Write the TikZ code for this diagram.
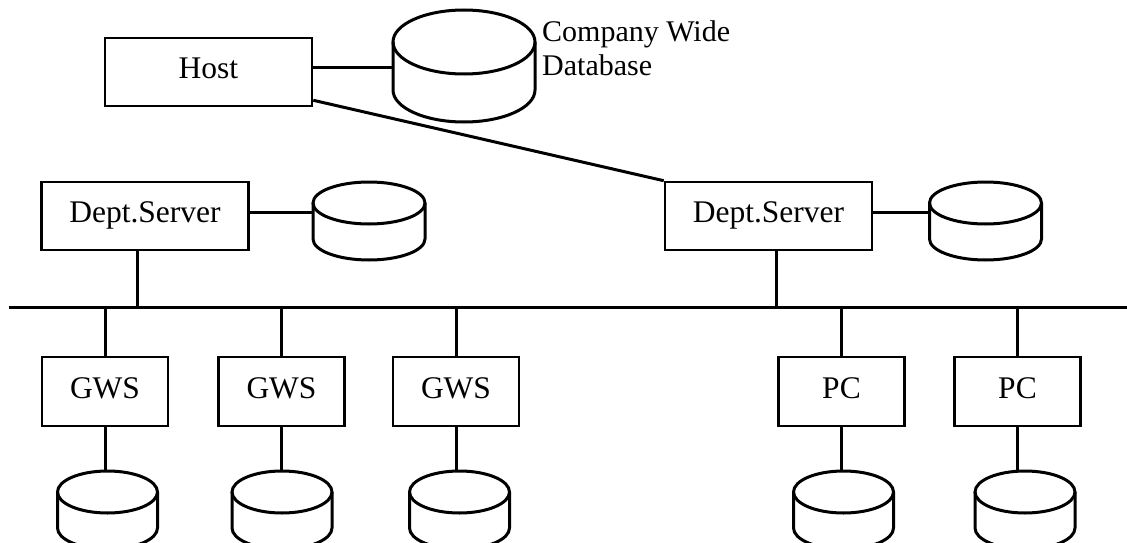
\documentclass[tikz,border=0pt]{standalone}
\usepackage{fontspec}
\setmainfont{Liberation Serif}
\usetikzlibrary{positioning,calc}

\begin{document}
\begin{tikzpicture}[x=1pt,y=-1pt]
	\tikzset{
	  basic/.style  = {draw, line width=2.6pt, rectangle, inner sep=0pt,
	                   font=\fontsize{31.5}{35}\selectfont,
	                   text height=21pt, text depth=7.5pt},
	  server/.style = {basic, minimum width=207pt, minimum height=68pt},
	  client/.style = {basic, minimum width=126pt, minimum height=69pt},
	  wire/.style   = {line width=3pt},
	  bus/.style    = {line width=3.8pt},
	  pics/disk/.style args = {#1/#2/#3}{code={
	    \draw[wire] (0,0) ellipse[x radius=#1, y radius=#2];
	    \draw[wire] (-#1,0) -- (-#1,#3)
	      arc[start angle=180, end angle=0, x radius=#1, y radius=#2] -- (#1,0);
	    \coordinate (-top) at (0,-#2);
	    \coordinate (-left) at (-#1,0);
	  }}
	}
	\useasboundingbox (0,0) rectangle (1127,543);

	% host and the company database
	\node[server] (host) at (208.5,72) {Host};
	\pic (dbhost) at (464,42) {disk={71/32/48}};
	\node[anchor=north west, inner sep=0pt, align=left,
	      font=\fontsize{30}{34}\selectfont] (dblabel) at (542,20)
	  {Company Wide\\Database};

	% department servers
	\node[server] (srvL) at (145,216) {Dept.Server};
	\node[server] (srvR) at (768.5,216) {Dept.Server};
	\pic (dbsrvL) at (369,203) {disk={56/21/36}};
	\pic (dbsrvR) at (985.5,203) {disk={56/21/36}};

	% the network
	\coordinate (busL) at (9,307.5);
	\coordinate (busR) at (1127,307.5);
	\draw[bus] (busL) -- (busR);

	% workstations and PCs
	\node[client] (gws1) at (105,391.5) {GWS};
	\node[client] (gws2) at (281.5,391.5) {GWS};
	\node[client] (gws3) at (456,391.5) {GWS};
	\node[client] (pc1) at (841.5,391.5) {PC};
	\node[client] (pc2) at (1017.5,391.5) {PC};
	\pic (dbgws1) at (107.5,492) {disk={50/21/36}};
	\pic (dbgws2) at (282,492) {disk={50/21/36}};
	\pic (dbgws3) at (459.5,492) {disk={50/21/36}};
	\pic (dbpc1) at (843.5,492) {disk={50/21/36}};
	\pic (dbpc2) at (1025,492) {disk={50/21/36}};

	\draw[wire] ([yshift=4pt]host.east) -- ([yshift=4pt]host.east -| dbhost-left);
	\draw[wire] ([yshift=7pt]host.south east) -- (srvR.north west);
	\draw[wire] ([yshift=4pt]srvL.east) -- ([yshift=4pt]srvL.east -| dbsrvL-left);
	\draw[wire] ([yshift=4pt]srvR.east) -- ([yshift=4pt]srvR.east -| dbsrvR-left);
	\draw[wire] ([xshift=-8pt]srvL.south) -- ([xshift=-8pt]srvL.south |- busL);
	\draw[wire] ([xshift=8pt]srvR.south) -- ([xshift=8pt]srvR.south |- busL);
	\foreach \n in {gws1,gws2,gws3,pc1,pc2}
	  \draw[wire] (\n.north |- busL) -- (\n.north)
	              (\n.south) -- (\n.south |- db\n-top);
\end{tikzpicture}
\end{document}
